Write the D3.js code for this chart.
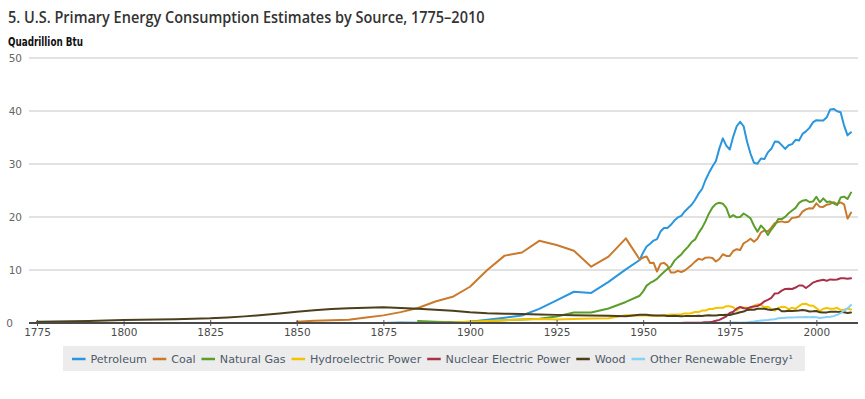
<!DOCTYPE html>
<html>
<head>
<meta charset="utf-8">
<script src="https://cdn.jsdelivr.net/npm/d3@7/dist/d3.min.js"></script>
<style>
  html, body { margin: 0; padding: 0; background: #fff; }
  svg { display: block; }
</style>
</head>
<body>
<svg id="chart" width="865" height="399"></svg>
<script>
// ---------------- DATA ----------------
const titleText = "5. U.S. Primary Energy Consumption Estimates by Source, 1775\u20132010";
const unitText = "Quadrillion Btu";
const xTickYears = [1775, 1800, 1825, 1850, 1875, 1900, 1925, 1950, 1975, 2000];
const yTickValues = [0, 10, 20, 30, 40, 50];

const seriesNames = ["Petroleum", "Coal", "Natural Gas", "Hydroelectric Power", "Nuclear Electric Power", "Wood", "Other Renewable Energy\u00b9"];
const seriesColors = ["#2b96dd", "#c97a2c", "#5b9e2c", "#f3c300", "#a9304a", "#4b3f1c", "#88d0f7"];

// 5-year estimates, 1775..1945
const earlyYears = [1775,1780,1785,1790,1795,1800,1805,1810,1815,1820,1825,1830,1835,1840,1845,1850,1855,1860,1865,1870,1875,1880,1885,1890,1895,1900,1905,1910,1915,1920,1925,1930,1935,1940,1945];
// annual, 1949..2010
const annualYears = [1949,1950,1951,1952,1953,1954,1955,1956,1957,1958,1959,1960,1961,1962,1963,1964,1965,1966,1967,1968,1969,1970,1971,1972,1973,1974,1975,1976,1977,1978,1979,1980,1981,1982,1983,1984,1985,1986,1987,1988,1989,1990,1991,1992,1993,1994,1995,1996,1997,1998,1999,2000,2001,2002,2003,2004,2005,2006,2007,2008,2009,2010];

const petroleumEarly = [null,null,null,null,null,null,null,null,null,null,null,null,null,null,null,null,null,0.003,0.006,0.011,0.011,0.096,0.040,0.156,0.168,0.229,0.610,1.007,1.418,2.676,4.280,5.897,5.675,7.760,10.110];
const petroleumAnnual = [11.883,13.315,14.428,14.956,15.556,15.839,17.255,17.937,17.932,18.527,19.323,19.919,20.216,21.049,21.701,22.301,23.246,24.401,25.284,26.979,28.338,29.521,30.561,32.947,34.840,33.455,32.731,35.175,37.122,37.965,37.123,34.202,31.931,30.232,30.054,31.051,30.922,32.196,32.865,34.222,34.211,33.553,32.845,33.527,33.744,34.561,34.438,35.675,36.159,36.816,37.838,38.262,38.186,38.224,38.811,40.292,40.388,39.955,39.774,37.280,35.403,35.970];

const coalEarly = [null,null,null,null,null,null,null,null,null,null,null,null,null,null,null,0.219,0.421,0.518,0.632,1.048,1.440,2.054,2.840,4.062,4.950,6.841,10.001,12.714,13.294,15.504,14.706,13.639,10.634,12.535,15.972];
const coalAnnual = [11.981,12.347,12.553,11.306,11.373,9.715,11.167,11.350,10.821,9.533,9.518,9.838,9.623,9.906,10.413,10.964,11.581,12.143,11.914,12.331,12.382,12.265,11.598,12.077,12.971,12.663,12.663,13.584,13.922,13.766,15.040,15.423,15.908,15.322,15.894,17.071,17.478,17.260,18.008,18.846,19.070,19.173,18.992,19.122,19.835,19.909,20.089,21.002,21.445,21.656,21.623,22.580,21.914,21.904,22.321,22.466,22.797,22.447,22.749,22.385,19.691,20.817];

const gasEarly = [null,null,null,null,null,null,null,null,null,null,null,null,null,null,null,null,null,null,null,null,null,null,0.372,0.257,0.147,0.252,0.372,0.540,0.673,0.813,1.212,1.969,1.974,2.726,3.973];
const gasAnnual = [5.145,5.968,7.049,7.550,7.907,8.330,8.998,9.614,10.191,10.663,11.717,12.385,12.926,13.731,14.403,15.288,15.769,17.000,17.944,19.210,20.678,21.795,22.469,22.698,22.512,21.732,19.948,20.345,19.931,20.000,20.666,20.235,19.747,18.356,17.221,18.394,17.703,16.591,17.640,18.448,19.602,19.603,20.033,20.714,21.229,21.728,22.671,23.085,23.223,22.830,22.909,23.824,22.773,23.510,22.831,22.923,22.565,22.239,23.663,23.843,23.416,24.600];

const hydroEarly = [null,null,null,null,null,null,null,null,null,null,null,null,null,null,null,null,null,null,null,null,null,null,null,0.022,0.085,0.250,0.386,0.539,0.659,0.738,0.668,0.752,0.831,0.880,1.442];
const hydroAnnual = [1.425,1.415,1.424,1.466,1.413,1.360,1.360,1.435,1.516,1.592,1.548,1.608,1.656,1.816,1.771,1.886,2.059,2.062,2.347,2.349,2.648,2.634,2.824,2.864,2.861,3.177,3.155,2.976,2.333,2.937,2.931,2.900,2.758,3.266,3.527,3.386,2.970,3.071,2.635,2.334,2.837,3.046,3.016,2.617,2.892,2.683,3.205,3.590,3.640,3.297,3.268,2.811,2.242,2.689,2.825,2.690,2.703,2.869,2.446,2.511,2.669,2.539];

const nuclearEarly = [null,null,null,null,null,null,null,null,null,null,null,null,null,null,null,null,null,null,null,null,null,null,null,null,null,null,null,null,null,null,null,null,null,null,null];
const nuclearAnnual = [null,null,null,null,null,null,null,null,0.000,0.002,0.002,0.006,0.020,0.026,0.038,0.040,0.043,0.064,0.088,0.142,0.154,0.239,0.413,0.584,0.910,1.272,1.900,2.111,2.702,3.024,2.776,2.739,3.008,3.131,3.203,3.553,4.076,4.380,4.754,5.587,5.602,6.104,6.422,6.479,6.410,6.694,7.075,7.087,6.597,7.068,7.610,7.862,8.029,8.145,7.959,8.222,8.161,8.215,8.455,8.427,8.356,8.434];

const woodEarly = [0.249,0.300,0.340,0.400,0.470,0.583,0.620,0.670,0.720,0.790,0.882,1.050,1.250,1.500,1.800,2.138,2.389,2.641,2.767,2.893,2.975,2.851,2.683,2.515,2.306,2.015,1.843,1.765,1.688,1.610,1.533,1.455,1.397,1.358,1.261];
const woodAnnual = [1.549,1.562,1.535,1.474,1.419,1.394,1.424,1.416,1.334,1.323,1.353,1.320,1.295,1.300,1.323,1.337,1.335,1.369,1.340,1.419,1.440,1.429,1.432,1.503,1.527,1.538,1.497,1.711,1.837,2.038,2.152,2.476,2.496,2.510,2.684,2.686,2.687,2.562,2.463,2.577,2.680,2.216,2.214,2.313,2.260,2.324,2.370,2.437,2.371,2.184,2.214,2.262,2.006,1.995,2.002,2.121,2.136,2.109,2.098,2.044,1.891,1.986];

const otherEarly = [null,null,null,null,null,null,null,null,null,null,null,null,null,null,null,null,null,null,null,null,null,null,null,null,null,null,null,null,null,null,null,null,null,null,null];
const otherAnnual = [null,null,null,null,null,null,null,null,null,null,null,0.001,0.001,0.002,0.004,0.004,0.004,0.004,0.007,0.009,0.013,0.011,0.012,0.031,0.043,0.053,0.070,0.078,0.077,0.064,0.084,0.110,0.250,0.300,0.370,0.450,0.500,0.560,0.640,0.700,0.900,0.950,1.000,1.050,1.060,1.070,1.100,1.100,1.120,1.100,1.110,1.100,0.950,1.050,1.120,1.180,1.300,1.550,1.850,2.350,2.750,3.400];

const seriesEarly = [petroleumEarly, coalEarly, gasEarly, hydroEarly, nuclearEarly, woodEarly, otherEarly];
const seriesAnnual = [petroleumAnnual, coalAnnual, gasAnnual, hydroAnnual, nuclearAnnual, woodAnnual, otherAnnual];

// ---------------- CHART ----------------
const svg = d3.select("#chart");
const font = "'DejaVu Sans', Verdana, sans-serif";

const x = d3.scaleLinear().domain([1775, 2010]).range([37, 851]);
const y = d3.scaleLinear().domain([0, 50]).range([323, 58]);
const gridLeft = 29, gridRight = 858;

// fit a text node horizontally to a target width (keeps its height)
function fitWidth(sel, target, x0) {
  const w = sel.node().getComputedTextLength();
  if (w > 0) {
    const sx = target / w;
    sel.attr("x", 0).attr("transform", `translate(${x0},${sel.attr("y")}) scale(${sx},1)`).attr("y", 0);
  }
}

// title
const title = svg.append("text")
  .attr("x", 8).attr("y", 23)
  .attr("font-family", "'Open Sans', 'DejaVu Sans', sans-serif").attr("font-size", 16.5)
  .attr("font-weight", 600)
  .attr("fill", "#333")
  .text(titleText);
fitWidth(title, 477, 8);

const unit = svg.append("text")
  .attr("x", 8).attr("y", 46)
  .attr("font-family", font).attr("font-size", 11.5).attr("font-weight", "bold")
  .attr("fill", "#111")
  .text(unitText);
fitWidth(unit, 75, 8);

// gridlines
svg.append("g").selectAll("line")
  .data(yTickValues.filter(v => v > 0))
  .join("line")
  .attr("x1", gridLeft).attr("x2", gridRight)
  .attr("y1", d => y(d)).attr("y2", d => y(d))
  .attr("stroke", "#d9d9d9").attr("stroke-width", 1.5);

// y labels
svg.append("g").selectAll("text")
  .data(yTickValues)
  .join("text")
  .attr("x", d => d === 0 ? 13 : 22)
  .attr("y", d => y(d) + 4)
  .attr("text-anchor", "end")
  .attr("font-family", font).attr("font-size", 10.5)
  .attr("fill", "#666")
  .text(d => d);

// lines
const line = d3.line()
  .defined(d => d.v !== null)
  .x(d => x(d.year))
  .y(d => y(d.v));

const gLines = svg.append("g").attr("fill", "none");
seriesNames.forEach((name, i) => {
  const pts = earlyYears.map((yr, k) => ({ year: yr, v: seriesEarly[i][k] }))
    .concat(annualYears.map((yr, k) => ({ year: yr, v: seriesAnnual[i][k] })))
    .filter(d => d.v !== null);
  gLines.append("path")
    .datum(pts)
    .attr("d", line)
    .attr("stroke", seriesColors[i])
    .attr("stroke-width", 2)
    .attr("stroke-linejoin", "round")
    .attr("stroke-linecap", "round");
});

// x axis
const xAxis = d3.axisBottom(x)
  .tickValues(xTickYears)
  .tickFormat(d3.format("d"))
  .tickSize(4)
  .tickSizeOuter(0);
const gx = svg.append("g").attr("transform", "translate(0,323)").call(xAxis);
gx.select(".domain").remove();
gx.append("line")
  .attr("x1", gridLeft).attr("x2", gridRight)
  .attr("y1", 0).attr("y2", 0)
  .attr("stroke", "#4a4a4a").attr("stroke-width", 2);
gx.selectAll(".tick line").attr("stroke", "#555").attr("y1", -3).attr("y2", 3);
gx.selectAll(".tick text")
  .attr("font-family", font).attr("font-size", 10.5)
  .attr("fill", "#4a4a4a").attr("y", 6);

// legend
const legend = svg.append("g");
legend.append("rect")
  .attr("x", 63).attr("y", 346).attr("width", 742).attr("height", 25)
  .attr("fill", "#ececec");
const legFont = 11.5;
let cx = 72;
const items = legend.selectAll("g.item").data(seriesNames).join("g").attr("class", "item");
items.each(function(name, i) {
  const g = d3.select(this);
  g.append("line")
    .attr("x1", 0).attr("x2", 14).attr("y1", 0).attr("y2", 0)
    .attr("stroke", seriesColors[i]).attr("stroke-width", 2.5);
  g.append("text")
    .attr("x", 19).attr("y", 4)
    .attr("font-family", font).attr("font-size", legFont)
    .attr("fill", "#4e5a6a")
    .text(name);
});
const widths = [];
items.each(function() { widths.push(19 + d3.select(this).select("text").node().getComputedTextLength()); });
const gap = 6;
const natural = d3.sum(widths) + gap * (widths.length - 1);
const targetW = 793 - 72;
const scaleF = targetW / natural;
items.each(function(name, i) {
  const g = d3.select(this);
  g.attr("transform", `translate(${cx},359)`);
  g.select("text").attr("font-size", legFont * scaleF).attr("x", 19 * scaleF);
  g.select("line").attr("x2", 14 * scaleF);
  cx += (widths[i] + gap) * scaleF;
});
</script>
</body>
</html>
